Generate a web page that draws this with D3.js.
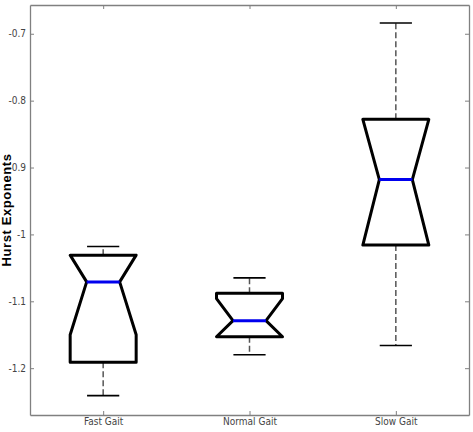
<!DOCTYPE html>
<html>
<head>
<meta charset="utf-8">
<script src="https://cdn.jsdelivr.net/npm/d3@7"></script>
<style>
  body { margin: 0; background: #fff; }
  .tick text { font-family: "Liberation Sans Narrow", "Arial Narrow", "DejaVu Sans Condensed", sans-serif; font-size: 10px; fill: #444; }
</style>
</head>
<body>
<div id="chart"></div>
<script>
// values
var categories = ["Fast Gait", "Normal Gait", "Slow Gait"];
var whiskerHigh = [-1.018, -1.065, -0.684];
var q3 = [-1.031, -1.088, -0.828];
var notchHigh = [-1.031, -1.096, -0.828];
var median = [-1.071, -1.129, -0.918];
var notchLow = [-1.150, -1.153, -1.016];
var q1 = [-1.191, -1.153, -1.016];
var whiskerLow = [-1.241, -1.180, -1.166];
var yTicks = [-1.2, -1.1, -1, -0.9, -0.8, -0.7];
var yTickLabels = ["-1.2", "-1.1", "-1", "-0.9", "-0.8", "-0.7"];

var W = 473, H = 432;
var margin = {top: 5, right: 4, bottom: 17, left: 30},
    width = W - margin.left - margin.right,
    height = H - margin.top - margin.bottom;

var svg = d3.select("#chart")
    .append("svg")
    .attr("width", W)
    .attr("height", H)
    .append("g")
    .attr("transform", "translate(" + margin.left + "," + margin.top + ")");

var x = d3.scaleLinear()
    .domain([0.5, categories.length + 0.5])
    .range([0, width]);

var y = d3.scaleLinear()
    .domain([-1.27, -0.657])
    .range([height, 0]);

var pos = categories.map(function(d, i) { return i + 1; });

// axes (ticks inside, like matlab)
function styleAxis(g) {
    g.selectAll("path.domain").attr("stroke", "#808080").attr("stroke-width", 1.3);
    g.selectAll(".tick line").attr("stroke", "#808080").attr("stroke-width", 1);
}

svg.append("g")
    .call(d3.axisLeft(y).tickValues(yTicks).tickSize(-4).tickSizeOuter(0).tickPadding(4)
        .tickFormat(function(d, i) { return yTickLabels[i]; }))
    .call(styleAxis);

svg.append("g")
    .attr("transform", "translate(" + width + ",0)")
    .call(d3.axisRight(y).tickValues(yTicks).tickSize(-4).tickSizeOuter(0).tickFormat(""))
    .call(styleAxis);

svg.append("g")
    .call(d3.axisTop(x).tickValues(pos).tickSize(-4).tickSizeOuter(0).tickFormat(""))
    .call(styleAxis);

svg.append("g")
    .attr("transform", "translate(0," + height + ")")
    .call(d3.axisBottom(x).tickValues(pos).tickSize(-4).tickSizeOuter(0).tickPadding(3)
        .tickFormat(function(d, i) { return categories[i]; }))
    .call(styleAxis);

// y axis title
svg.append("text")
    .attr("transform", "rotate(-90)")
    .attr("x", -height / 2)
    .attr("y", -19)
    .attr("text-anchor", "middle")
    .style("font-family", "Liberation Sans, Arial, sans-serif")
    .style("font-size", "13px")
    .style("letter-spacing", "0.6px")
    .style("font-weight", "bold")
    .text("Hurst Exponents");

var hw = 0.2255, capW = 0.11;

var boxes = svg.append("g")
    .selectAll("g")
    .data(pos)
    .enter().append("g");

// whiskers
boxes.append("line")
    .attr("x1", function(d) { return x(d); })
    .attr("x2", function(d) { return x(d); })
    .attr("y1", function(d, i) { return y(q3[i]); })
    .attr("y2", function(d, i) { return y(whiskerHigh[i]); })
    .attr("stroke", "#555").attr("stroke-width", 1.5).attr("stroke-dasharray", "6,3");
boxes.append("line")
    .attr("x1", function(d) { return x(d); })
    .attr("x2", function(d) { return x(d); })
    .attr("y1", function(d, i) { return y(q1[i]); })
    .attr("y2", function(d, i) { return y(whiskerLow[i]); })
    .attr("stroke", "#555").attr("stroke-width", 1.5).attr("stroke-dasharray", "6,3");

// caps
[whiskerHigh, whiskerLow].forEach(function(arr) {
    boxes.append("line")
        .attr("x1", function(d) { return x(d - capW); })
        .attr("x2", function(d) { return x(d + capW); })
        .attr("y1", function(d, i) { return y(arr[i]); })
        .attr("y2", function(d, i) { return y(arr[i]); })
        .attr("stroke", "#000").attr("stroke-width", 1.6);
});

// notched box
boxes.append("path")
    .attr("d", function(d, i) {
        var L = x(d - hw), R = x(d + hw), nl = x(d - hw / 2), nr = x(d + hw / 2);
        return "M" + L + "," + y(q3[i]) +
            "L" + L + "," + y(notchHigh[i]) +
            "L" + nl + "," + y(median[i]) +
            "L" + L + "," + y(notchLow[i]) +
            "L" + L + "," + y(q1[i]) +
            "L" + R + "," + y(q1[i]) +
            "L" + R + "," + y(notchLow[i]) +
            "L" + nr + "," + y(median[i]) +
            "L" + R + "," + y(notchHigh[i]) +
            "L" + R + "," + y(q3[i]) + "Z";
    })
    .attr("fill", "none")
    .attr("stroke", "#000")
    .attr("stroke-width", 3)
    .attr("stroke-linejoin", "round");

// medians
boxes.append("line")
    .attr("x1", function(d) { return x(d - hw / 2); })
    .attr("x2", function(d) { return x(d + hw / 2); })
    .attr("y1", function(d, i) { return y(median[i]); })
    .attr("y2", function(d, i) { return y(median[i]); })
    .attr("stroke", "#0000ee").attr("stroke-width", 3);
</script>
</body>
</html>
